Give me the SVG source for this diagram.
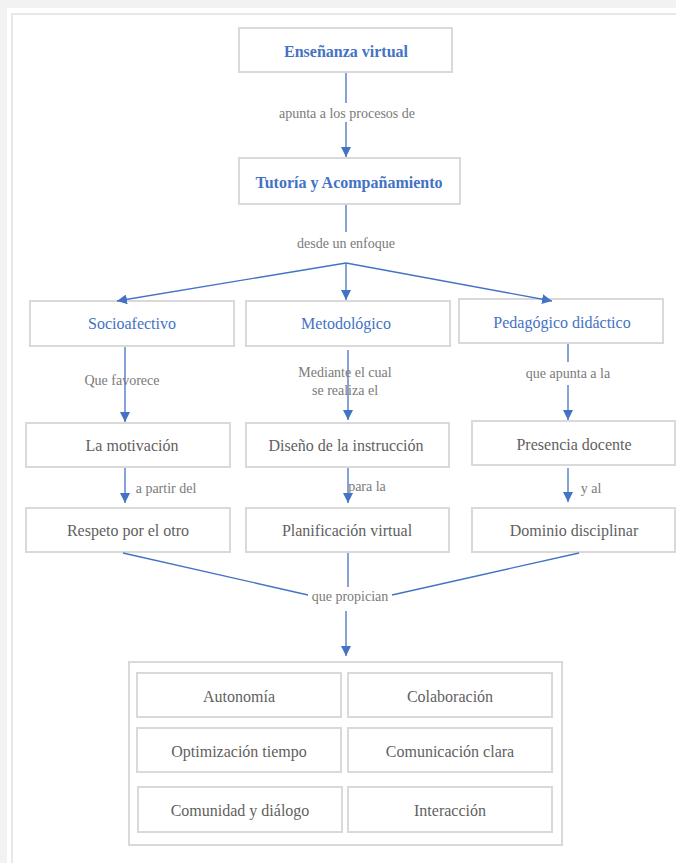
<svg xmlns="http://www.w3.org/2000/svg" width="676" height="863" viewBox="0 0 676 863" font-family="'Liberation Serif', 'Times New Roman', Times, serif">
<style>
.box{fill:#fff;stroke:#d9d9d9;stroke-width:2}
.t{font-family:'Liberation Serif','Times New Roman',Times,serif;font-size:16px;fill:#5f5f5f;text-anchor:middle}
.b{fill:#4472c4}
.bold{font-weight:bold}
.lbl{font-family:'Liberation Serif','Times New Roman',Times,serif;font-size:14px;fill:#7a7a7a;text-anchor:middle}
.ln{stroke:#4472c4;stroke-width:1.3;fill:none}
</style>
<defs>
<marker id="ah" viewBox="0 0 10 10" refX="10" refY="5" markerWidth="10" markerHeight="10" markerUnits="userSpaceOnUse" orient="auto">
<path d="M0,0 L10,5 L0,10 z" fill="#4472c4"/>
</marker>
</defs>
<rect x="0" y="0" width="676" height="863" fill="#f2f2f2"/>
<rect x="7" y="8" width="669" height="855" fill="#fff"/>
<path d="M12,863 V14 H676" stroke="#e8e8e8" stroke-width="2" fill="none"/>

<g id="n-ensenanza"><rect class="box" x="239" y="28" width="213" height="44"/><text class="t b bold" x="346" y="57">Enseñanza virtual</text></g>
<g id="n-tutoria"><rect class="box" x="239" y="158" width="221" height="46"/><text class="t b bold" x="349" y="188">Tutoría y Acompañamiento</text></g>

<g id="n-socio"><rect class="box" x="30" y="301" width="204" height="45"/><text class="t b" x="132" y="329">Socioafectivo</text></g>
<g id="n-metodo"><rect class="box" x="246" y="301" width="204" height="45"/><text class="t b" x="346" y="329">Metodológico</text></g>
<g id="n-pedago"><rect class="box" x="459" y="299" width="204" height="44"/><text class="t b" x="562" y="328">Pedagógico didáctico</text></g>

<g id="n-motivacion"><rect class="box" x="26" y="423" width="204" height="44"/><text class="t" x="132" y="451">La motivación</text></g>
<g id="n-diseno"><rect class="box" x="246" y="423" width="203" height="44"/><text class="t" x="346" y="451">Diseño de la instrucción</text></g>
<g id="n-presencia"><rect class="box" x="472" y="421" width="203" height="44"/><text class="t" x="574" y="450">Presencia docente</text></g>

<g id="n-respeto"><rect class="box" x="26" y="508" width="204" height="44"/><text class="t" x="128" y="536">Respeto por el otro</text></g>
<g id="n-planif"><rect class="box" x="246" y="508" width="203" height="44"/><text class="t" x="347" y="536">Planificación virtual</text></g>
<g id="n-dominio"><rect class="box" x="472" y="508" width="203" height="44"/><text class="t" x="574" y="536">Dominio disciplinar</text></g>

<g id="n-container"><rect class="box" x="129" y="662" width="433" height="183"/></g>
<g id="n-autonomia"><rect class="box" x="137" y="673" width="204" height="44"/><text class="t" x="239" y="702">Autonomía</text></g>
<g id="n-colaboracion"><rect class="box" x="348" y="673" width="204" height="44"/><text class="t" x="450" y="702">Colaboración</text></g>
<g id="n-optimizacion"><rect class="box" x="137" y="728" width="204" height="44"/><text class="t" x="239" y="757">Optimización tiempo</text></g>
<g id="n-comunicacion"><rect class="box" x="348" y="728" width="204" height="44"/><text class="t" x="450" y="757">Comunicación clara</text></g>
<g id="n-comunidad"><rect class="box" x="138" y="787" width="204" height="45"/><text class="t" x="240" y="816">Comunidad y diálogo</text></g>
<g id="n-interaccion"><rect class="box" x="348" y="787" width="204" height="45"/><text class="t" x="450" y="816">Interacción</text></g>

<g id="connectors">
<line class="ln" x1="346" y1="73" x2="346" y2="103"/>
<line class="ln" x1="346" y1="122" x2="346" y2="157" marker-end="url(#ah)"/>
<line class="ln" x1="346" y1="205" x2="346" y2="232"/>
<line class="ln" x1="346" y1="263" x2="117" y2="301" marker-end="url(#ah)"/>
<line class="ln" x1="346" y1="263" x2="346" y2="300" marker-end="url(#ah)"/>
<line class="ln" x1="346" y1="263" x2="552" y2="301" marker-end="url(#ah)"/>
<line class="ln" x1="125" y1="347" x2="125" y2="422" marker-end="url(#ah)"/>
<line class="ln" x1="348" y1="350" x2="348" y2="420" marker-end="url(#ah)"/>
<line class="ln" x1="568" y1="344" x2="568" y2="362"/>
<line class="ln" x1="568" y1="385" x2="568" y2="420" marker-end="url(#ah)"/>
<line class="ln" x1="125" y1="468" x2="125" y2="503" marker-end="url(#ah)"/>
<line class="ln" x1="348" y1="468" x2="348" y2="503" marker-end="url(#ah)"/>
<line class="ln" x1="568" y1="468" x2="568" y2="502" marker-end="url(#ah)"/>
<line class="ln" x1="123" y1="553" x2="308" y2="595"/>
<line class="ln" x1="348" y1="553" x2="348" y2="587"/>
<line class="ln" x1="579" y1="553" x2="392" y2="595"/>
<line class="ln" x1="346" y1="611" x2="346" y2="656" marker-end="url(#ah)"/>
<text class="lbl" x="347" y="118">apunta a los procesos de</text>
<text class="lbl" x="346" y="248">desde un enfoque</text>
<text class="lbl" x="122" y="385">Que favorece</text>
<text class="lbl" x="345" y="377">Mediante el cual</text>
<text class="lbl" x="345" y="395">se realiza el</text>
<text class="lbl" x="568" y="378">que apunta a la</text>
<text class="lbl" x="166" y="493">a partir del</text>
<text class="lbl" x="367" y="491">para la</text>
<text class="lbl" x="591" y="493">y al</text>
<text class="lbl" x="350" y="601">que propician</text>
</g>
</svg>
